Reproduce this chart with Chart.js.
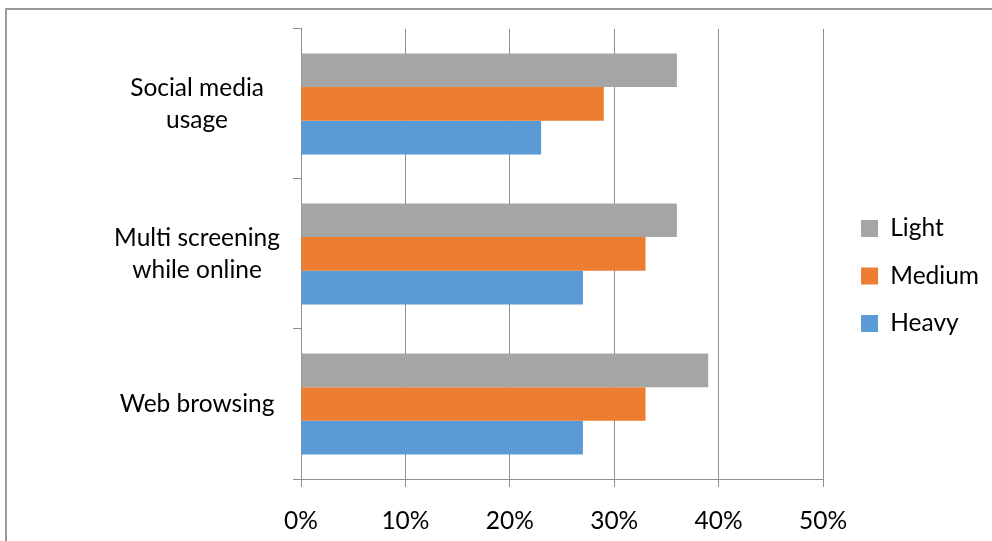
<!doctype html>
<html lang="en">
 <head>
  <meta charset="utf-8">
  <style>
body { margin: 0; background: #fff; }
.frame {
  position: absolute; left: 5px; top: 8px; width: 1200px; height: 800px;
  border-left: 2px solid #9a9a9a; border-top: 2px solid #9a9a9a;
}
#chart { position: absolute; left: 0; top: 0; }
  </style>
  <title>Usage by user type</title>
 </head>
 <body>
  <div class="frame"></div>
  <canvas id="chart" width="992" height="541"></canvas>

  <script src="https://cdn.jsdelivr.net/npm/chart.js@4.4.1/dist/chart.umd.min.js"></script>
  <script>
var categories = [['Social media', 'usage'], ['Multi screening', 'while online'], 'Web browsing'];
var light = [36, 36, 39];
var medium = [29, 33, 33];
var heavy = [23, 27, 27];
var xTicks = [0, 10, 20, 30, 40, 50];

const axisGray = '#8f8f8f';
const labelFont = { family: 'Lato', size: 24.5 };

// nudge the legend a bit right/up, like the original
const legendShift = {
  id: 'legendShift',
  afterLayout(chart) {
    chart.legend.left += 15;
    chart.legend.right += 15;
    chart.legend.top -= 7;
    chart.legend.bottom -= 7;
  }
};

const chartConfig = {
  type: 'bar',
  data: {
    labels: categories,
    datasets: [
      { label: 'Light', data: light, backgroundColor: '#a5a5a5' },
      { label: 'Medium', data: medium, backgroundColor: '#ed7d31' },
      { label: 'Heavy', data: heavy, backgroundColor: '#5b9bd5' }
    ]
  },
  options: {
    indexAxis: 'y',
    responsive: false,
    animation: false,
    barPercentage: 1,
    categoryPercentage: 0.674,
    layout: { padding: { top: 25, right: 18, bottom: 0, left: 0 } },
    scales: {
      x: {
        min: 0,
        max: 50,
        afterBuildTicks: (s) => { s.ticks = xTicks.map(v => ({ value: v })); },
        afterFit: (s) => { s.height = 62; },
        grid: { color: axisGray, tickLength: 8, lineWidth: 1 },
        border: { color: axisGray },
        ticks: {
          color: '#000',
          font: labelFont,
          padding: 19,
          callback: (v) => v + '%'
        }
      },
      y: {
        afterFit: (s) => { s.width = 301; },
        grid: { drawOnChartArea: false, color: axisGray, tickLength: 8, offset: true },
        border: { color: axisGray },
        ticks: {
          color: '#000',
          font: { family: 'Lato', size: 24.5, lineHeight: 1.3 },
          crossAlign: 'center',
          padding: 13
        }
      }
    },
    plugins: {
      legend: {
        position: 'right',
        labels: {
          color: '#000',
          font: labelFont,
          boxWidth: 17,
          boxHeight: 17,
          padding: 23
        }
      },
      tooltip: { enabled: false }
    }
  },
  plugins: [legendShift]
};

const usageChart = new Chart(document.getElementById('chart'), chartConfig);
  </script>
 </body>
</html>
